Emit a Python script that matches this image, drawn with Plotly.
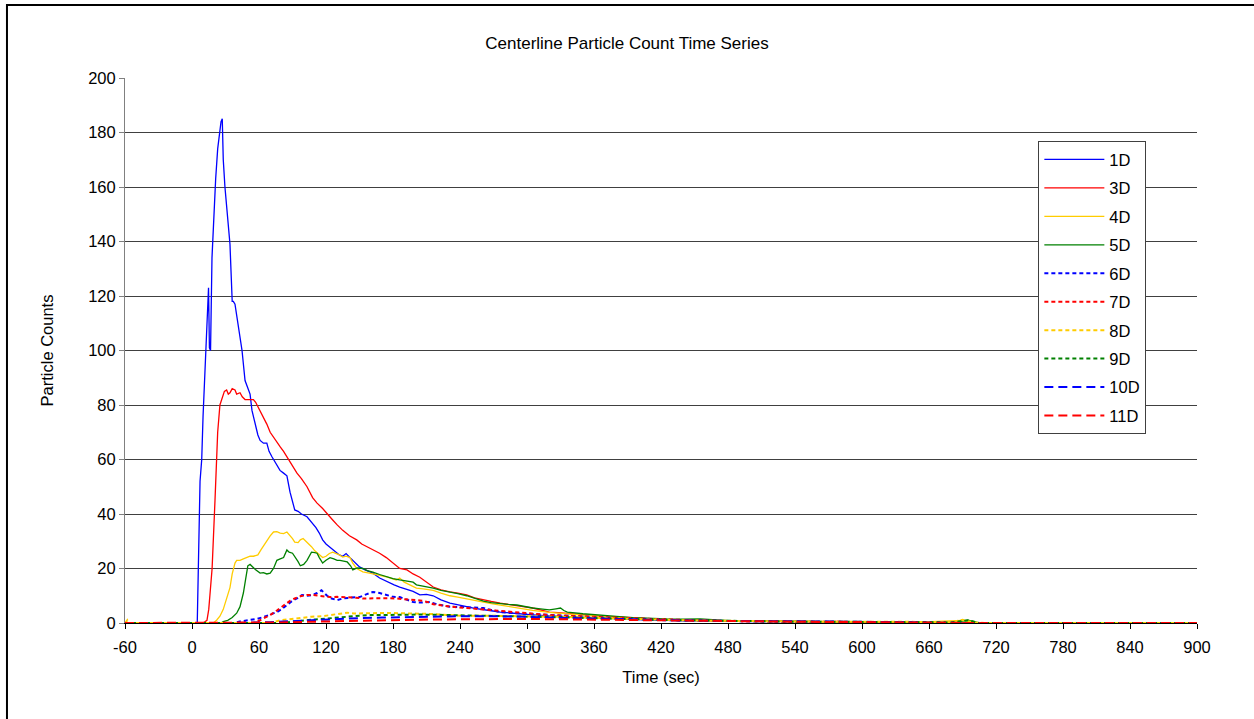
import plotly.graph_objects as go

# ---------------- data ----------------
series_names = ["1D", "3D", "4D", "5D", "6D", "7D", "8D", "9D", "10D", "11D"]

t_1d = [-60, 4, 4.7, 7.2, 8.7, 9.9, 12.5, 14.3, 14.8, 15.6, 16.6, 17.9, 18.8, 21.2, 23, 25, 26, 27.1, 28, 29.5,
        32, 34, 36, 37, 38.5, 40.3, 43, 44.8, 47.5, 50, 52, 53.7, 56.4, 59, 61, 64, 67, 69, 71.6, 74.3, 76,
        78.8, 82, 85, 87.8, 90, 92, 95, 98, 103, 105, 108, 111, 114, 117, 120, 123, 126, 129, 132, 135, 138,
        141.5, 145, 150, 155, 162, 168, 175, 181, 186, 192, 198, 204, 210, 216, 223, 231, 238, 246, 253, 261,
        268, 276, 290, 305, 320, 336, 350, 365, 380, 395, 410, 425, 440, 455, 470, 485, 500, 530, 560, 590,
        620, 650, 680, 900]
y_1d = [0, 0, 0, 52, 60, 76, 100, 118, 123, 101, 100, 134, 143, 163, 174, 181, 184, 185, 170, 160,
        148, 139, 118, 118, 117, 112, 106, 100, 89, 86, 84, 78, 73, 69, 67, 66, 66, 63, 61, 59, 58,
        56, 55, 54, 48, 45, 41.5, 41, 40, 39, 38, 36.7, 35, 33, 30.5, 29, 28, 27, 26, 25, 24.5, 25.5,
        24, 22.5, 20.6, 19.5, 18.3, 16.5, 15, 14, 13.2, 12.5, 11.6, 10.3, 10.5, 10, 8.5, 7.3, 6.8, 6, 5.4, 4.8,
        4.5, 4, 3.4, 3, 2.6, 2.3, 2, 1.8, 1.5, 1.2, 1.1, 1, 0.8, 0.9, 0.6, 0.7, 0.5, 0.5, 0.4, 0.3,
        0.4, 0.2, 0, 0]

t_3d = [-60, 10, 13.4, 15, 16, 18, 20.6, 23, 25, 27, 29, 31, 32.5, 34, 36, 38.5, 40, 43, 45, 47.5, 51, 55,
        57, 59, 61, 63.6, 67, 70, 74, 79, 82, 85, 89, 94, 98, 103, 108, 112, 117, 121, 126, 130, 135, 141,
        147.5, 152, 157, 162, 168, 174, 180, 186, 192.5, 198, 204, 210, 216, 223, 231, 238, 246, 253, 261,
        268, 276, 283, 291, 298, 305, 312, 320, 328, 336, 350, 365, 380, 395, 410, 425, 440, 455, 470, 485,
        500, 520, 540, 560, 580, 600, 620, 640, 660, 680, 900]
y_3d = [0, 0, 1, 5, 10, 20, 45, 70, 80, 83, 85, 85.5, 84, 84.5, 86, 85.5, 84, 84.5, 83, 82, 82, 82,
        81, 79.5, 77.5, 75.7, 73, 70, 67.5, 64.6, 63, 61, 58.5, 55, 53, 50, 46, 44, 42, 40, 37.8, 36, 34, 32,
        30.5, 29, 28, 27, 25.6, 24, 22, 20, 19.5, 18, 16.8, 15, 13.2, 12.2, 11.4, 11, 10.3, 9.2, 8.4,
        7.9, 7.3, 6.8, 6.2, 5.9, 5.5, 4.8, 4, 3.8, 3.5, 3, 2.5, 2.2, 1.8, 1.5, 1.2, 1.0, 1.1, 0.9, 0.8,
        0.7, 0.6, 0.7, 0.5, 0.6, 0.4, 0.5, 0.3, 0.2, 0, 0]

t_4d = [-60, 19, 22, 25, 28, 31, 34, 36, 38.5, 40, 43, 46, 49, 52, 55, 59, 62, 65, 68, 70, 73, 76, 79, 82,
        85, 88, 90, 92, 95, 97, 99.5, 102, 105, 107, 110, 114, 117, 120, 123, 126, 129, 132, 135, 138, 141.5,
        144, 147.5, 150, 153, 160, 168, 175, 183, 186, 190, 198, 201, 207, 213, 216, 223, 231, 238, 246, 253,
        261, 268, 276, 290, 305, 320, 336, 350, 365, 380, 395, 410, 425, 440, 455, 470, 485, 500, 530, 560,
        590, 620, 650, 690, 700, 720, 900]
y_4d = [0, 0, 1, 2.5, 5, 9, 13, 18, 22, 23, 23, 23.5, 24, 24.5, 24.5, 25, 27, 29, 31, 32, 33.4, 33.5, 33, 32.8,
        33.4, 32, 31, 29.7, 29.5, 30.5, 31, 30, 29, 28, 26.5, 25, 24, 24.5, 25.5, 26, 25.5, 25, 24.2, 24.5, 24,
        22, 20, 19.5, 18.8, 18.2, 17.6, 16.8, 15.8, 16.5, 15, 13.2, 12.8, 12.5, 12, 12, 11, 10, 9.5, 8.8, 8.2,
        7.7, 7.1, 6.6, 5.6, 4.6, 3.9, 3.3, 2.9, 2.5, 2.1, 1.8, 1.5, 1.3, 1.1, 1.0, 0.8, 0.9, 0.7, 0.6, 0.5,
        0.6, 0.4, 0.3, 1.0, 0.2, 0, 0]

t_5d = [-60, 26, 28, 32, 36, 40, 43, 46, 48, 50, 52, 54, 57, 61, 64, 67, 70, 73, 76, 79, 82, 85, 87, 90, 93,
        95, 97, 100, 103, 105, 107, 110, 112, 114, 117, 120, 123.6, 127, 130, 132.5, 136, 139, 142, 144, 148,
        153, 157, 162, 168, 175, 180, 186, 192, 198, 201, 207, 213, 216, 223, 231, 238, 246, 253, 261, 268,
        276, 283, 291, 298, 305, 312, 320, 326, 330, 333, 336, 350, 365, 380, 395, 410, 425, 440, 455, 470,
        485, 500, 530, 560, 590, 620, 650, 680, 695, 705, 900]
y_5d = [0, 0, 0.5, 1, 2, 3.6, 6, 11, 16, 21, 21.5, 20.6, 19.5, 18.3, 18.5, 18, 18.3, 20, 23, 23.5, 24, 26.8, 26, 25.6, 24,
        22.5, 21, 21.5, 23, 24.5, 26, 25.8, 25.6, 24, 22, 23, 24, 23.5, 23, 23, 22.8, 22.4, 21, 19.5, 20.2,
        20, 19.2, 18.7, 17.8, 16.8, 16.3, 15.8, 15.3, 15, 14, 13.5, 13.2, 12.8, 12, 11.4, 10.8, 10, 9, 8, 7.5,
        7, 6.8, 6.6, 6, 5.5, 5.2, 4.8, 5.2, 5.5, 4.6, 4, 3.4, 2.8, 2.4, 2, 1.7, 1.5, 1.4, 1.5, 1.1,
        0.8, 0.8, 0.6, 0.5, 0.4, 0.5, 0.3, 0.2, 1.0, 0, 0]

t_6d = [-60, 38, 42, 50, 58, 64, 70, 76, 80, 85, 90, 94, 98.5, 103, 108, 112, 116, 121, 125, 130, 135, 142,
        150, 156, 162, 168, 175, 180, 186, 192, 198, 204, 213, 220, 231, 246, 261, 268, 276, 290, 305, 320,
        336, 350, 365, 380, 395, 410, 425, 440, 455, 470, 485, 500, 530, 560, 590, 620, 650, 680, 900]
y_6d = [0, 0, 0.5, 1, 1.5, 2.2, 3, 4, 5, 6.6, 8.2, 9, 10.3, 10, 10.3, 11, 12, 10, 9, 8.4, 9, 9.3,
        9.5, 10.5, 11.4, 11, 10.3, 9.6, 9.5, 8.6, 7.7, 7.5, 7.7, 6.8, 6, 5.8, 5.5, 4.8, 4, 3.6, 3.3, 2.9,
        2.6, 2.2, 1.9, 1.7, 1.5, 1.2, 1, 0.9, 0.8, 0.7, 0.6, 0.5, 0.5, 0.4, 0.4, 0.3, 0.2, 0, 0]

t_7d = [-60, 55, 61, 66, 71, 76, 80, 85, 88, 92, 97, 103, 108, 114, 118, 123.6, 130, 139, 146, 153, 160, 168,
        175, 183, 190, 198, 206, 213, 216, 223, 231, 246, 261, 276, 290, 305, 320, 336, 350, 365, 380, 395,
        410, 425, 440, 455, 470, 485, 500, 530, 560, 590, 620, 650, 680, 700, 900]
y_7d = [0, 0, 1, 2, 3.2, 4.6, 5.8, 7.3, 8.2, 9, 9.8, 10.3, 10.3, 10, 9.8, 9.5, 9.6, 9.5, 9.3, 9, 9.1, 9,
        9.1, 9, 8.8, 8.4, 8.2, 7.5, 6.9, 6.5, 6, 5.5, 5, 4.5, 3.9, 3.3, 2.9, 2.6, 2.4, 2.2, 1.8, 1.5,
        1.3, 1.1, 1, 0.9, 0.8, 0.7, 0.6, 0.5, 0.5, 0.4, 0.4, 0.2, 0.1, 0, 0]

t_8d = [-60, -58, -57, 70, 79, 88, 97, 107, 117, 124, 130, 135, 139, 145, 150, 162, 175, 186, 198, 216, 231,
        246, 261, 276, 290, 305, 320, 336, 350, 365, 380, 395, 410, 425, 440, 455, 470, 485, 500, 530, 560,
        590, 620, 650, 680, 690, 700, 710, 900]
y_8d = [0, 1, 0, 0, 1, 1.4, 2, 2.3, 2.5, 3, 3.4, 3.7, 3.8, 3.5, 3.6, 3.6, 3.7, 3.6, 3.5, 3.3, 2.9,
        2.6, 2.7, 2.6, 2.6, 2.6, 2.4, 2.2, 2, 1.8, 1.6, 1.5, 1.3, 1.1, 1, 0.9, 0.8, 0.8, 0.7, 0.6, 0.5,
        0.6, 0.5, 0.4, 0.3, 1.2, 0.2, 0, 0]

t_9d = [-60, 80, 90, 100, 110, 120, 130, 140, 150, 160, 175, 190, 205, 220, 235, 250, 265, 280, 295, 310,
        325, 340, 355, 370, 385, 400, 415, 430, 445, 460, 475, 490, 505, 535, 565, 595, 625, 655, 680, 695,
        705, 900]
y_9d = [0, 0, 0.5, 1, 1.3, 1.6, 2, 2.4, 2.7, 2.9, 3, 3, 3.1, 3, 2.9, 2.8, 2.7, 2.6, 2.4, 2.3,
        2.1, 2, 1.8, 1.6, 1.5, 1.3, 1.2, 1.1, 1, 0.9, 0.8, 0.8, 0.6, 0.5, 0.5, 0.4, 0.4, 0.3, 0.2, 1,
        0, 0]

t_10d = [-60, 40, 70, 90, 110, 130, 150, 170, 190, 210, 230, 250, 270, 290, 310, 330, 350, 370, 390, 410,
         430, 450, 470, 490, 520, 550, 580, 610, 640, 670, 690, 900]
y_10d = [0, 0, 0.3, 0.7, 1, 1.4, 1.8, 2, 2.2, 2.3, 2.4, 2.5, 2.5, 2.4, 2.1, 1.9, 1.7, 1.5, 1.3, 1.1,
         1, 0.9, 0.8, 0.7, 0.6, 0.5, 0.5, 0.4, 0.3, 0.2, 0, 0]

t_11d = [-60, 50, 80, 100, 120, 140, 160, 180, 200, 220, 240, 260, 280, 300, 320, 340, 360, 380, 400, 420,
         440, 460, 480, 500, 530, 560, 590, 620, 650, 680, 700, 900]
y_11d = [0, 0, 0.2, 0.4, 0.6, 0.8, 1, 1.1, 1.2, 1.3, 1.4, 1.5, 1.5, 1.5, 1.4, 1.3, 1.2, 1.1, 1, 0.9,
         0.8, 0.7, 0.6, 0.5, 0.5, 0.4, 0.4, 0.3, 0.2, 0.1, 0, 0]

x_ticks = [-60, 0, 60, 120, 180, 240, 300, 360, 420, 480, 540, 600, 660, 720, 780, 840, 900]
y_ticks = [0, 20, 40, 60, 80, 100, 120, 140, 160, 180, 200]

# ---------------- styles ----------------
BLUE, RED, YELLOW, GREEN = "#0000FF", "#FF0000", "#FFCC00", "#008000"
DOT, DASH = "4px,3px", "9px,5px"
styles = [
    (BLUE, "solid", 1.3), (RED, "solid", 1.3), (YELLOW, "solid", 1.3), (GREEN, "solid", 1.3),
    (BLUE, DOT, 2), (RED, DOT, 2), (YELLOW, DOT, 2), (GREEN, DOT, 2),
    (BLUE, DASH, 2), (RED, DASH, 2),
]
data = [(t_1d, y_1d), (t_3d, y_3d), (t_4d, y_4d), (t_5d, y_5d), (t_6d, y_6d),
        (t_7d, y_7d), (t_8d, y_8d), (t_9d, y_9d), (t_10d, y_10d), (t_11d, y_11d)]

FONT = "Liberation Sans, Arial, sans-serif"
FS = 16.5
TXT = dict(family=FONT, size=FS, color="black")

fig = go.Figure()
for name, (tx, ty), (col, dash, w) in zip(series_names, data, styles):
    fig.add_trace(go.Scatter(x=tx, y=ty, mode="lines", name=name, legendgroup=name,
                             line=dict(color=col, dash=dash, width=w)))

fig.update_layout(
    width=1254, height=719,
    margin=dict(l=125, r=57, t=78, b=96),
    paper_bgcolor="white", plot_bgcolor="white",
    font=TXT,
    title=dict(text="Centerline Particle Count Time Series", x=0.5, xref="container",
               y=1 - 43 / 719, yref="container", xanchor="center", yanchor="middle",
               font=dict(family=FONT, size=17, color="black")),
    showlegend=True,
    legend=dict(x=0.852, y=0.884, xanchor="left", yanchor="top",
                bordercolor="#404040", borderwidth=1, bgcolor="white",
                font=TXT, tracegroupgap=4, traceorder="grouped", itemwidth=60),
    shapes=[dict(type="rect", xref="paper", yref="paper", x0=-0.1101, x1=1.2, y0=-0.3, y1=1.1339,
                 line=dict(color="black", width=2), fillcolor="rgba(0,0,0,0)", layer="above")],
)
fig.update_xaxes(range=[-60, 900], tickvals=x_ticks, ticktext=[str(v) for v in x_ticks],
                 tickfont=TXT, ticklabelstandoff=4,
                 showgrid=False, zeroline=False, showline=True, linecolor="black", linewidth=1,
                 ticks="outside", ticklen=5, tickcolor="black",
                 title=dict(text="Time (sec)", standoff=16, font=TXT), automargin=False)
fig.update_yaxes(range=[0, 200], tickvals=y_ticks, ticktext=[str(v) for v in y_ticks],
                 tickfont=TXT,
                 showgrid=True, gridcolor="#404040", gridwidth=1, zeroline=False,
                 showline=True, linecolor="#808080", linewidth=1,
                 ticks="outside", ticklen=5, tickcolor="#808080",
                 title=dict(text="Particle Counts", standoff=30, font=TXT), automargin=False)

fig.write_html("out.html")
